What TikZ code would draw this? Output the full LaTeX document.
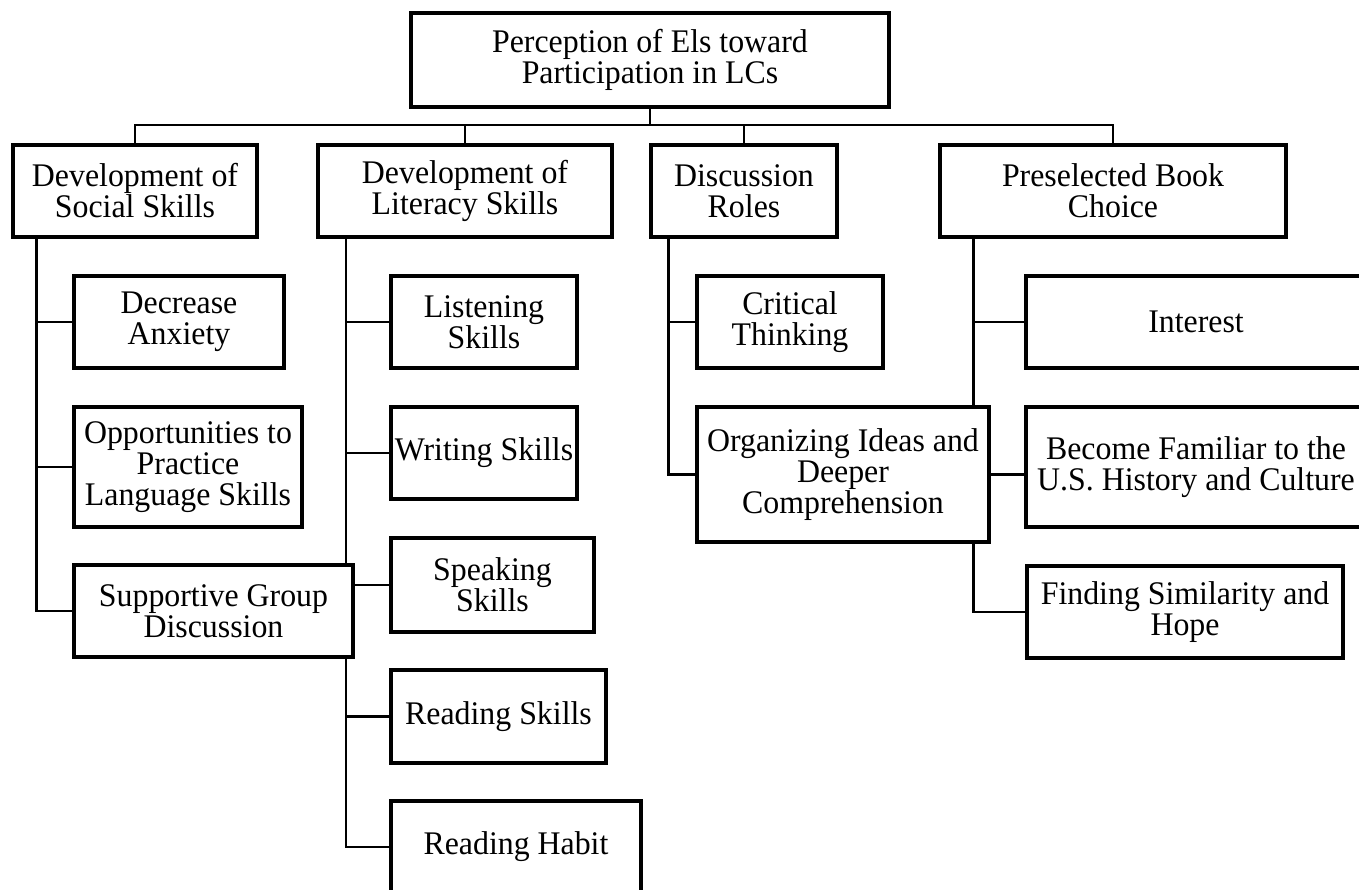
\documentclass[tikz,border=0pt]{standalone}
\usepackage{fontspec}
\setmainfont[FakeStretch=0.965]{Liberation Serif}
\usetikzlibrary{backgrounds}
\tikzset{
  box/.style={draw, line width=3.5pt, fill=white, align=center, inner sep=0pt,
    font=\fontsize{33}{31}\selectfont},
  conn/.style={line width=2.5pt},
}
\begin{document}
\begin{tikzpicture}[x=1pt,y=-1pt]
\useasboundingbox (0,0) rectangle (1359,890);
% root
\node[box, minimum width=478pt, minimum height=94pt] (root) at (650,60) {Perception of Els toward\\Participation in LCs};
% level 1
\node[box, minimum width=244pt, minimum height=92pt] (soc) at (135,191) {Development of\\Social Skills};
\node[box, minimum width=294pt, minimum height=92pt] (lit) at (465,191) {Development of\\Literacy Skills};
\node[box, minimum width=186pt, minimum height=92pt] (disc) at (744,191) {Discussion\\Roles};
\node[box, minimum width=346pt, minimum height=92pt] (pre) at (1113,191) {Preselected Book\\Choice};
% social
\node[box, minimum width=210pt, minimum height=92pt] (dec) at (179,322) {Decrease\\Anxiety};
\node[box, minimum width=228pt, minimum height=120pt] (opp) at (188,467) {Opportunities to\\Practice\\Language Skills};
% literacy
\node[box, minimum width=186pt, minimum height=92pt] (lis) at (484,322) {Listening\\Skills};
\node[box, minimum width=186pt, minimum height=92pt] (wri) at (484,453) {Writing Skills};
\node[box, minimum width=203pt, minimum height=94pt] (spk) at (492.5,585) {Speaking\\Skills};
\node[box, minimum width=215pt, minimum height=93pt] (rsk) at (498.5,716.5) {Reading Skills};
\node[box, minimum width=250pt, minimum height=92pt] (rha) at (516,847) {Reading Habit};
% supportive (covers literacy spine)
\node[box, minimum width=279pt, minimum height=92pt] (sup) at (213.5,611) {Supportive Group\\Discussion};
% discussion
\node[box, minimum width=186pt, minimum height=92pt] (crit) at (790,322) {Critical\\Thinking};
% preselected
\node[box, minimum width=340pt, minimum height=92pt] (int) at (1196,322) {Interest};
\node[box, minimum width=340pt, minimum height=120pt] (bec) at (1196,467) {Become Familiar to the\\U.S. History and Culture};
\node[box, minimum width=316pt, minimum height=92pt] (fin) at (1185,612) {Finding Similarity and\\Hope};
\node[box, minimum width=292pt, minimum height=135pt] (org) at (843,474.5) {Organizing Ideas and\\Deeper\\Comprehension};
% connectors
\coordinate (busy) at (650,125);
\begin{scope}[on background layer]
\draw[conn] (root.south) -- (busy);
\draw[conn] (soc.north) |- (busy) -| (pre.north);
\draw[conn] (lit.north) -- (lit.north |- busy);
\draw[conn] (disc.north) -- (disc.north |- busy);
% social spine
\draw[conn] ([xshift=25pt]soc.south west) |- (dec.west);
\draw[conn] ([xshift=25pt]soc.south west) |- (opp.west);
\draw[conn] ([xshift=25pt]soc.south west) |- (sup.west);
% literacy spine
\draw[conn] ([xshift=29.5pt]lit.south west) |- (lis.west);
\draw[conn] ([xshift=29.5pt]lit.south west) |- (wri.west);
\draw[conn] ([xshift=29.5pt]lit.south west) |- (spk.west);
\draw[conn] ([xshift=29.5pt]lit.south west) |- (rsk.west);
\draw[conn] ([xshift=29.5pt]lit.south west) |- (rha.west);
% discussion spine
\draw[conn] ([xshift=19pt]disc.south west) |- (crit.west);
\draw[conn] ([xshift=19pt]disc.south west) |- (org.west);
% preselected spine
\draw[conn] ([xshift=35pt]pre.south west) |- (int.west);
\draw[conn] ([xshift=35pt]pre.south west) |- ([yshift=-7.5pt]bec.west);
\draw[conn] ([xshift=35pt]pre.south west) |- (fin.west);
\end{scope}
\end{tikzpicture}
\end{document}
